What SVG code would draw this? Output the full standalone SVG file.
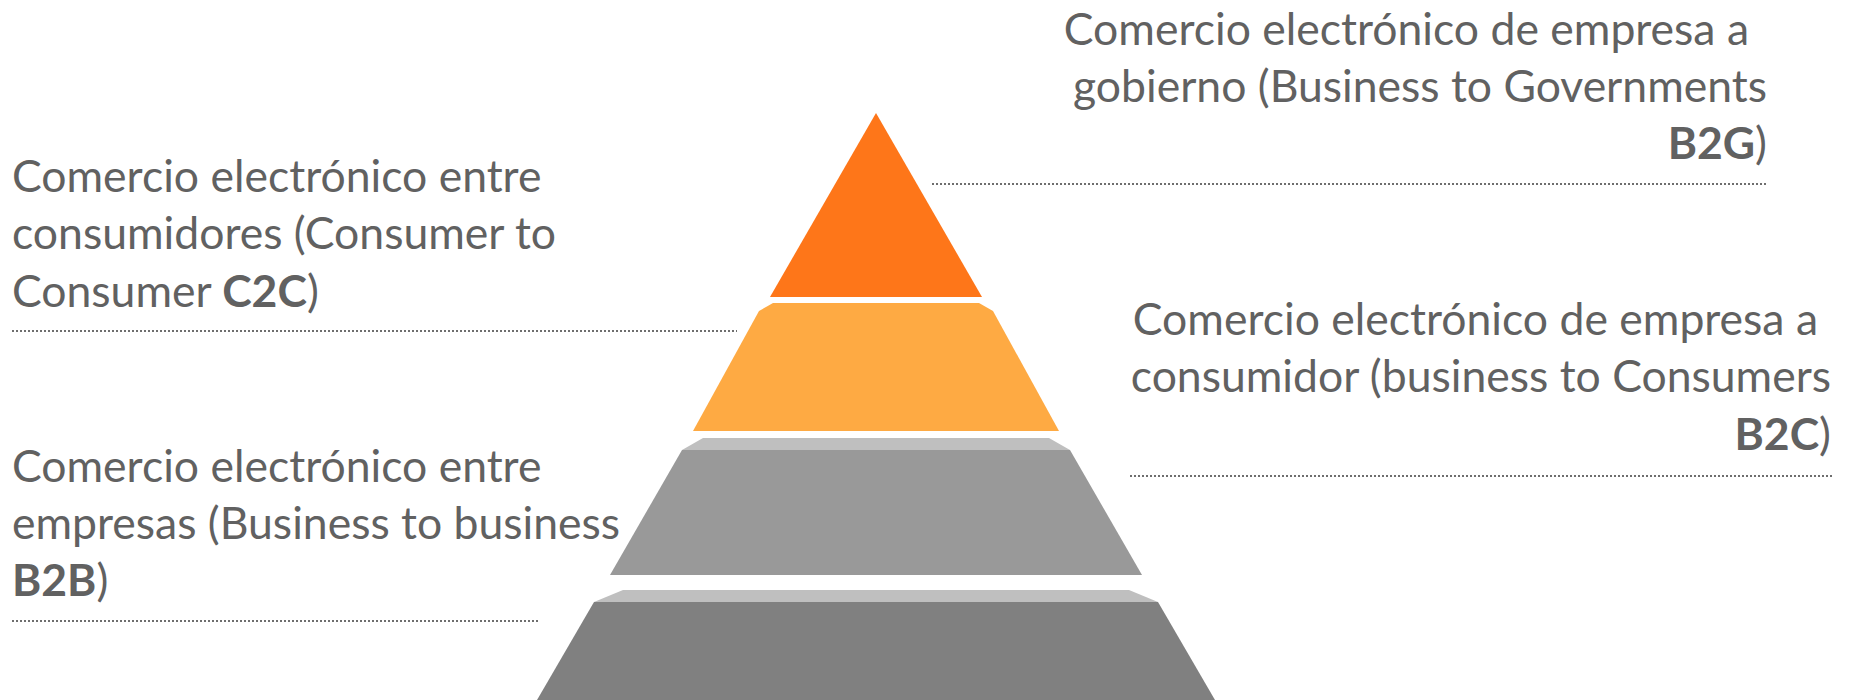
<svg xmlns="http://www.w3.org/2000/svg" width="1867" height="700" viewBox="0 0 1867 700">
<style>
.t{font-family:Lato,"Liberation Sans",sans-serif;font-size:44.5px;fill:#616161}
.b{font-weight:bold}
.r{text-anchor:end}
.dot{stroke:#6e6e6e;stroke-width:2;stroke-dasharray:2 2;fill:none}
</style>
<rect width="1867" height="700" fill="#ffffff"/>
<g id="pyramid">
<g id="level-b2g">
<polygon points="876,113 982,297 770,297" fill="#FE7619"/>
</g>
<g id="level-c2c">
<polygon points="773,303 979,303 993,311 1059,431 693,431 759,311" fill="#FEAA43"/>
</g>
<g id="level-b2c">
<polygon points="703,438 1049,438 1070,450 682,450" fill="#BFBFBF"/>
<polygon points="682,450 1070,450 1142,575 610,575" fill="#999999"/>
</g>
<g id="level-b2b">
<polygon points="623,590 1129,590 1158,602 594,602" fill="#BFBFBF"/>
<polygon points="594,602 1158,602 1215,700 537,700" fill="#808080"/>
</g>
</g>
<g id="connectors">
<line class="dot" x1="932" y1="184" x2="1767" y2="184"/>
<line class="dot" x1="12" y1="331" x2="737" y2="331"/>
<line class="dot" x1="1130" y1="476" x2="1832" y2="476"/>
<line class="dot" x1="12" y1="621" x2="540" y2="621"/>
</g>
<g id="label-b2g">
<text class="t r" x="1749" y="45">Comercio electrónico de empresa a</text>
<text class="t r" x="1767" y="102">gobierno (Business to Governments</text>
<text class="t r" x="1767" y="159"><tspan class="b">B2G</tspan>)</text>
</g>
<g id="label-c2c">
<text class="t" x="12" y="192">Comercio electrónico entre</text>
<text class="t" x="12" y="249">consumidores (Consumer to</text>
<text class="t" x="12" y="307">Consumer <tspan class="b">C2C</tspan>)</text>
</g>
<g id="label-b2c">
<text class="t r" x="1818" y="335">Comercio electrónico de empresa a</text>
<text class="t r" x="1831" y="392">consumidor (business to Consumers</text>
<text class="t r" x="1831" y="450"><tspan class="b">B2C</tspan>)</text>
</g>
<g id="label-b2b">
<text class="t" x="12" y="482">Comercio electrónico entre</text>
<text class="t" x="12" y="539">empresas (Business to business</text>
<text class="t" x="12" y="596"><tspan class="b">B2B</tspan>)</text>
</g>
</svg>
